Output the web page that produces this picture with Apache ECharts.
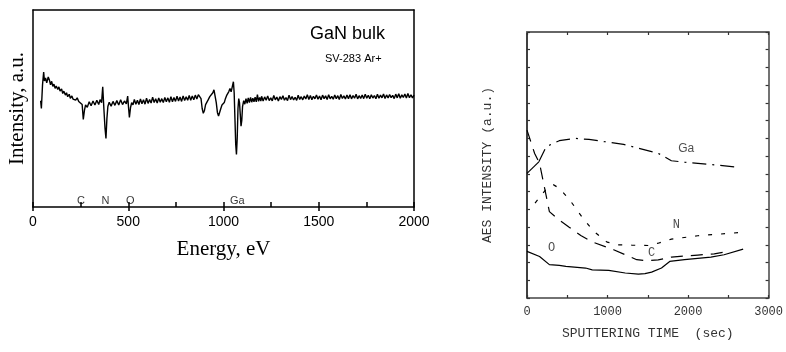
<!DOCTYPE html>
<html>
<head>
<meta charset="utf-8">
<script src="https://cdn.jsdelivr.net/npm/echarts@6/dist/echarts.min.js"></script>
<style>
html,body{margin:0;padding:0;background:#fff;}
#chart{width:786px;height:352px;}
</style>
</head>
<body>
<div id="chart"></div>
<script>
// ---------- Left chart: AES spectrum (energy eV, intensity a.u.) ----------
const spectrumPoints = [
[40,54],[44,50],[50,62],[56,68.5],[60,64],[66,65.5],[72,63],[80,66],[86,64.5],[92,62],[98,63.8],[104,61.2],[110,62.4],[116,60.2],[122,61.4],[130,59.6],[136,61],[142,58.8],[150,60],[156,57.6],[162,58.8],[170,56.8],[176,58],[182,56],[190,57.2],[196,55.2],[204,56.4],[210,54.8],[218,55.8],[224,54.2],[232,55.4],[240,53.6],[246,54.6],[250,54],
[258,52],[264,44.5],[270,49],[276,51.8],[285,50.6],[295,53.4],[305,51.4],[315,53.8],[325,51.8],[335,54.2],[345,52],[352,54.5],[356,55.5],[360,53],[366,61],[372,50],[378,40],[383,34.8],[388,45],[393,51],[400,53.2],[410,51.2],[420,53.6],[430,51.6],[440,54],[450,51.8],[460,54.4],[470,52],[480,53.8],[490,52.4],[497,56.3],[502,50],[506,45.5],[512,50.5],
[518,53],[525,51.8],[532,54.6],[540,52.2],[548,54.2],[556,52],[564,54.8],[572,52.4],[580,54.4],[588,52.2],[596,55.2],[604,52.6],[612,54.6],[620,52.8],[628,55.8],[636,53],[644,55],[652,52.8],[660,55.4],[668,53.2],[676,55],[684,53],[692,55.6],[700,53.4],[708,55.4],[716,53.2],[724,56],[732,53.4],[740,55.6],[748,53.6],[756,56.2],[764,53.8],[772,55.8],[780,53.6],[788,56.4],[796,54],[804,56],[812,54.2],[820,56.6],[828,54.2],[836,56.4],[844,54.4],[852,56.8],[860,54.8],[868,57],[875,57.5],
[882,55],[888,50],[894,47.6],[900,49],[906,52],[913,52.8],[920,54.5],[928,56],[936,57],[944,58],[950,59.5],[956,59],[962,53],[968,48],[974,46.2],[980,47],[986,50],[992,51.8],[998,51],[1004,53],[1010,55],[1016,56.5],[1022,57.5],[1028,58.6],[1034,60.2],[1040,58.5],[1046,61],[1052,63.6],[1056,58],[1060,45],[1064,32],[1068,26.7],[1072,35],[1076,50],[1080,55],[1084,53],[1088,47],[1092,41],[1096,44],[1100,51],
[1106,54],[1112,52.2],[1118,55],[1124,52.6],[1130,55.4],[1136,53],[1142,55.6],[1148,53.2],[1154,55.2],[1160,53.4],[1166,55.8],[1172,53.4],[1178,57],[1184,53.6],[1190,55.6],[1196,53.8],
[1200,56.2],[1208,53.8],[1216,55.9],[1224,54.2],[1232,56.4],[1240,54],[1248,55.4],[1256,53.9],[1264,56.6],[1272,54.4],[1280,55.8],[1288,53.8],[1296,56],[1304,54.6],[1312,56.5],[1320,54.2],[1328,55.6],[1336,54],[1344,56.8],[1352,54.5],[1360,56.1],[1368,54.3],[1376,55.7],[1384,54.1],[1392,56.7],[1400,54.6],[1408,56],[1416,54.4],[1424,56.3],[1432,54.8],[1440,57],[1448,54.6],[1456,56.6],[1464,54.5],[1472,56.2],[1480,54.9],[1488,56.9],[1496,54.7],[1504,56.3],[1512,54.4],[1520,56.8],[1528,55],[1536,56.4],[1544,54.6],[1552,57],[1560,54.9],[1568,56.2],[1576,54.7],[1584,56.9],[1592,55],[1600,56.5],[1608,54.6],[1616,57.1],[1624,55.1],[1632,56.4],[1640,54.8],[1648,56.8],[1656,55],[1664,57],[1672,54.9],[1680,56.6],[1688,55.2],[1696,57.2],[1704,54.9],[1712,56.5],[1720,55.1],[1728,56.9],[1736,55],[1744,57.3],[1752,55.2],[1760,56.7],[1768,54.9],[1776,57],[1784,55.3],[1792,56.6],[1800,55],[1808,57.2],[1816,55.2],[1824,56.8],[1832,55.4],[1840,57.4],[1848,55.1],[1856,56.9],[1864,55.3],[1872,57.1],[1880,55.5],[1888,56.7],[1896,55],[1904,57.3],[1912,55.4],[1920,57.5],[1928,55.2],[1936,56.9],[1944,55.6],[1952,57.4],[1960,55.3],[1968,57.6],[1976,55.5],[1984,57],[1992,55.4],[2000,56.8]
];
const elementNames = ['C','N','O','Ga'];
const elementEnergies = [252, 380, 511, 1072];
const elementLabelLevel = 3.2;
const energyTicks = [0, 500, 1000, 1500, 2000];

// ---------- Right chart: AES depth profile ----------
const gaLeadPoints = [[0,7.03],[147,7.68]];
const gaPoints = [[147,7.68],[238,8.53],[401,8.87],[606,9.0],[770,8.94],[974,8.81],[1199,8.66],[1383,8.45],[1629,8.16],[1793,7.74],[1956,7.66],[2283,7.53],[2600,7.38]];
const nPoints = [[100,5.35],[147,5.62],[250,6.2],[330,6.38],[401,6.19],[524,5.57],[680,4.59],[822,3.79],[994,3.15],[1138,3.0],[1300,2.98],[1506,2.96],[1629,3.09],[1793,3.32],[2120,3.51],[2672,3.7]];
const cPoints = [[0,9.47],[95,8.15],[156,7.59],[278,4.87],[393,4.42],[524,3.99],[668,3.53],[810,3.16],[1076,2.72],[1363,2.16],[1486,2.1],[1629,2.15],[1793,2.31],[2120,2.42],[2325,2.49],[2488,2.62]];
const oPoints = [[0,2.63],[156,2.34],[278,1.88],[401,1.84],[483,1.78],[728,1.69],[810,1.59],[1015,1.56],[1220,1.41],[1383,1.35],[1465,1.37],[1547,1.46],[1670,1.69],[1772,2.06],[1956,2.16],[2283,2.31],[2447,2.44],[2684,2.76]];
const profileLabelNames = ['Ga','N','C','O'];
const profileLabelPositions = [[1977,8.44],[1853,4.12],[1547,2.53],[307,2.81]];
const timeTicks = [0, 1000, 2000, 3000];

const chart = echarts.init(document.getElementById('chart'), null, {renderer:'canvas'});

const sans = 'Liberation Sans, Arial, sans-serif';
const serif = 'Liberation Serif, Times New Roman, serif';
const mono = 'Liberation Mono, Courier New, monospace';

const option = {
  animation: false,
  backgroundColor: '#fff',
  grid: [
    {left: 33, top: 10, width: 381, height: 197},
    {left: 527, top: 32, width: 244, height: 266}
  ],
  xAxis: [
    { // 0: left bottom, ticks every 250 inward
      gridIndex: 0, type: 'value', min: 0, max: 2000, interval: 250, position: 'bottom',
      axisLine: {show: true, onZero: false, lineStyle: {color: '#000', width: 1.5}},
      axisTick: {show: true, inside: true, length: 5, lineStyle: {color: '#000', width: 1.5}},
      axisLabel: {show: true, margin: 8, fontFamily: sans, fontSize: 14, color: '#000',
        formatter: v => energyTicks.includes(v) ? String(v) : ''},
      splitLine: {show: false},
      name: 'Energy, eV', nameLocation: 'middle', nameGap: 32,
      nameTextStyle: {fontFamily: serif, fontSize: 21, color: '#000'}
    },
    { // 1: left bottom outward major ticks
      gridIndex: 0, type: 'value', min: 0, max: 2000, interval: 500, position: 'bottom',
      axisLine: {show: false, onZero: false},
      axisTick: {show: true, inside: false, length: 4, lineStyle: {color: '#000', width: 1.5}},
      axisLabel: {show: false}, splitLine: {show: false}
    },
    { // 2: left top border
      gridIndex: 0, type: 'value', min: 0, max: 2000, position: 'top',
      axisLine: {show: true, onZero: false, lineStyle: {color: '#000', width: 1.5}},
      axisTick: {show: false}, axisLabel: {show: false}, splitLine: {show: false}
    },
    { // 3: right bottom
      gridIndex: 1, type: 'value', min: 0, max: 3000, interval: 500, position: 'bottom',
      axisLine: {show: true, onZero: false, lineStyle: {color: '#444', width: 1.5}},
      axisTick: {show: true, inside: true, length: 3, lineStyle: {color: '#333', width: 1.2}},
      axisLabel: {show: true, margin: 8, fontFamily: mono, fontSize: 12, color: '#333',
        formatter: v => timeTicks.includes(v) ? String(v) : ''},
      splitLine: {show: false},
      name: 'SPUTTERING TIME  (sec)', nameLocation: 'middle', nameGap: 29,
      nameTextStyle: {fontFamily: mono, fontSize: 13, color: '#333'}
    },
    { // 4: right top
      gridIndex: 1, type: 'value', min: 0, max: 3000, interval: 500, position: 'top',
      axisLine: {show: true, onZero: false, lineStyle: {color: '#666', width: 2}},
      axisTick: {show: true, inside: true, length: 3, lineStyle: {color: '#333', width: 1.2}},
      axisLabel: {show: false}, splitLine: {show: false}
    }
  ],
  yAxis: [
    { // 0: left chart left
      gridIndex: 0, type: 'value', min: 0, max: 100, position: 'left',
      axisLine: {show: true, onZero: false, lineStyle: {color: '#000', width: 1.5}},
      axisTick: {show: false}, axisLabel: {show: false}, splitLine: {show: false},
      name: 'Intensity, a.u.', nameLocation: 'middle', nameGap: 5,
      nameTextStyle: {fontFamily: serif, fontSize: 21, color: '#000'}
    },
    { // 1: left chart right border
      gridIndex: 0, type: 'value', min: 0, max: 100, position: 'right',
      axisLine: {show: true, onZero: false, lineStyle: {color: '#000', width: 1.5}},
      axisTick: {show: false}, axisLabel: {show: false}, splitLine: {show: false}
    },
    { // 2: right chart left
      gridIndex: 1, type: 'value', min: 0, max: 15, interval: 1, position: 'left',
      axisLine: {show: true, onZero: false, lineStyle: {color: '#000', width: 1.5}},
      axisTick: {show: true, inside: true, length: 3, lineStyle: {color: '#333', width: 1.2}},
      axisLabel: {show: false}, splitLine: {show: false},
      name: 'AES INTENSITY (a.u.)', nameLocation: 'middle', nameGap: 33,
      nameTextStyle: {fontFamily: mono, fontSize: 13, color: '#333'}
    },
    { // 3: right chart right
      gridIndex: 1, type: 'value', min: 0, max: 15, interval: 1, position: 'right',
      axisLine: {show: true, onZero: false, lineStyle: {color: '#444', width: 1.5}},
      axisTick: {show: true, inside: true, length: 3, lineStyle: {color: '#333', width: 1.2}},
      axisLabel: {show: false}, splitLine: {show: false}
    }
  ],
  series: [
    {
      type: 'line', xAxisIndex: 0, yAxisIndex: 0, data: spectrumPoints,
      showSymbol: false, symbol: 'none', lineStyle: {color: '#000', width: 1.4}
    },
    {
      type: 'scatter', xAxisIndex: 0, yAxisIndex: 0,
      data: elementNames.map((n, i) => ({value: [elementEnergies[i], elementLabelLevel], name: n})),
      symbolSize: 1, itemStyle: {color: 'rgba(0,0,0,0)'},
      label: {show: true, position: 'inside', formatter: p => p.name, fontFamily: sans, fontSize: 11, color: '#000'}
    },
    {
      type: 'line', xAxisIndex: 3, yAxisIndex: 2, data: gaLeadPoints, showSymbol: false, symbol: 'none',
      lineStyle: {color: '#000', width: 1.2}
    },
    {
      type: 'line', xAxisIndex: 3, yAxisIndex: 2, data: gaPoints, showSymbol: false, symbol: 'none',
      lineStyle: {color: '#000', width: 1.2, type: [14, 6, 2, 6]}
    },
    {
      type: 'line', xAxisIndex: 3, yAxisIndex: 2, data: nPoints, showSymbol: false, symbol: 'none',
      lineStyle: {color: '#000', width: 1.2, type: [4, 9]}
    },
    {
      type: 'line', xAxisIndex: 3, yAxisIndex: 2, data: cPoints, showSymbol: false, symbol: 'none',
      lineStyle: {color: '#000', width: 1.2, type: [12, 8]}
    },
    {
      type: 'line', xAxisIndex: 3, yAxisIndex: 2, data: oPoints, showSymbol: false, symbol: 'none',
      lineStyle: {color: '#000', width: 1.2}
    },
    {
      type: 'scatter', xAxisIndex: 3, yAxisIndex: 2,
      data: profileLabelNames.map((n, i) => ({value: profileLabelPositions[i], name: n,
        label: {fontFamily: n === 'Ga' ? sans : mono}})),
      symbolSize: 1, itemStyle: {color: 'rgba(0,0,0,0)'},
      label: {show: true, position: 'inside', formatter: p => p.name, fontSize: 12, color: '#222'}
    }
  ],
  graphic: [
    {type: 'text', left: 310, top: 25, style: {text: 'GaN bulk', font: '18px ' + sans, fill: '#000'}},
    {type: 'text', left: 325, top: 53, style: {text: 'SV-283 Ar+', font: '11px ' + sans, fill: '#000'}}
  ]
};
chart.setOption(option);
</script>
</body>
</html>
